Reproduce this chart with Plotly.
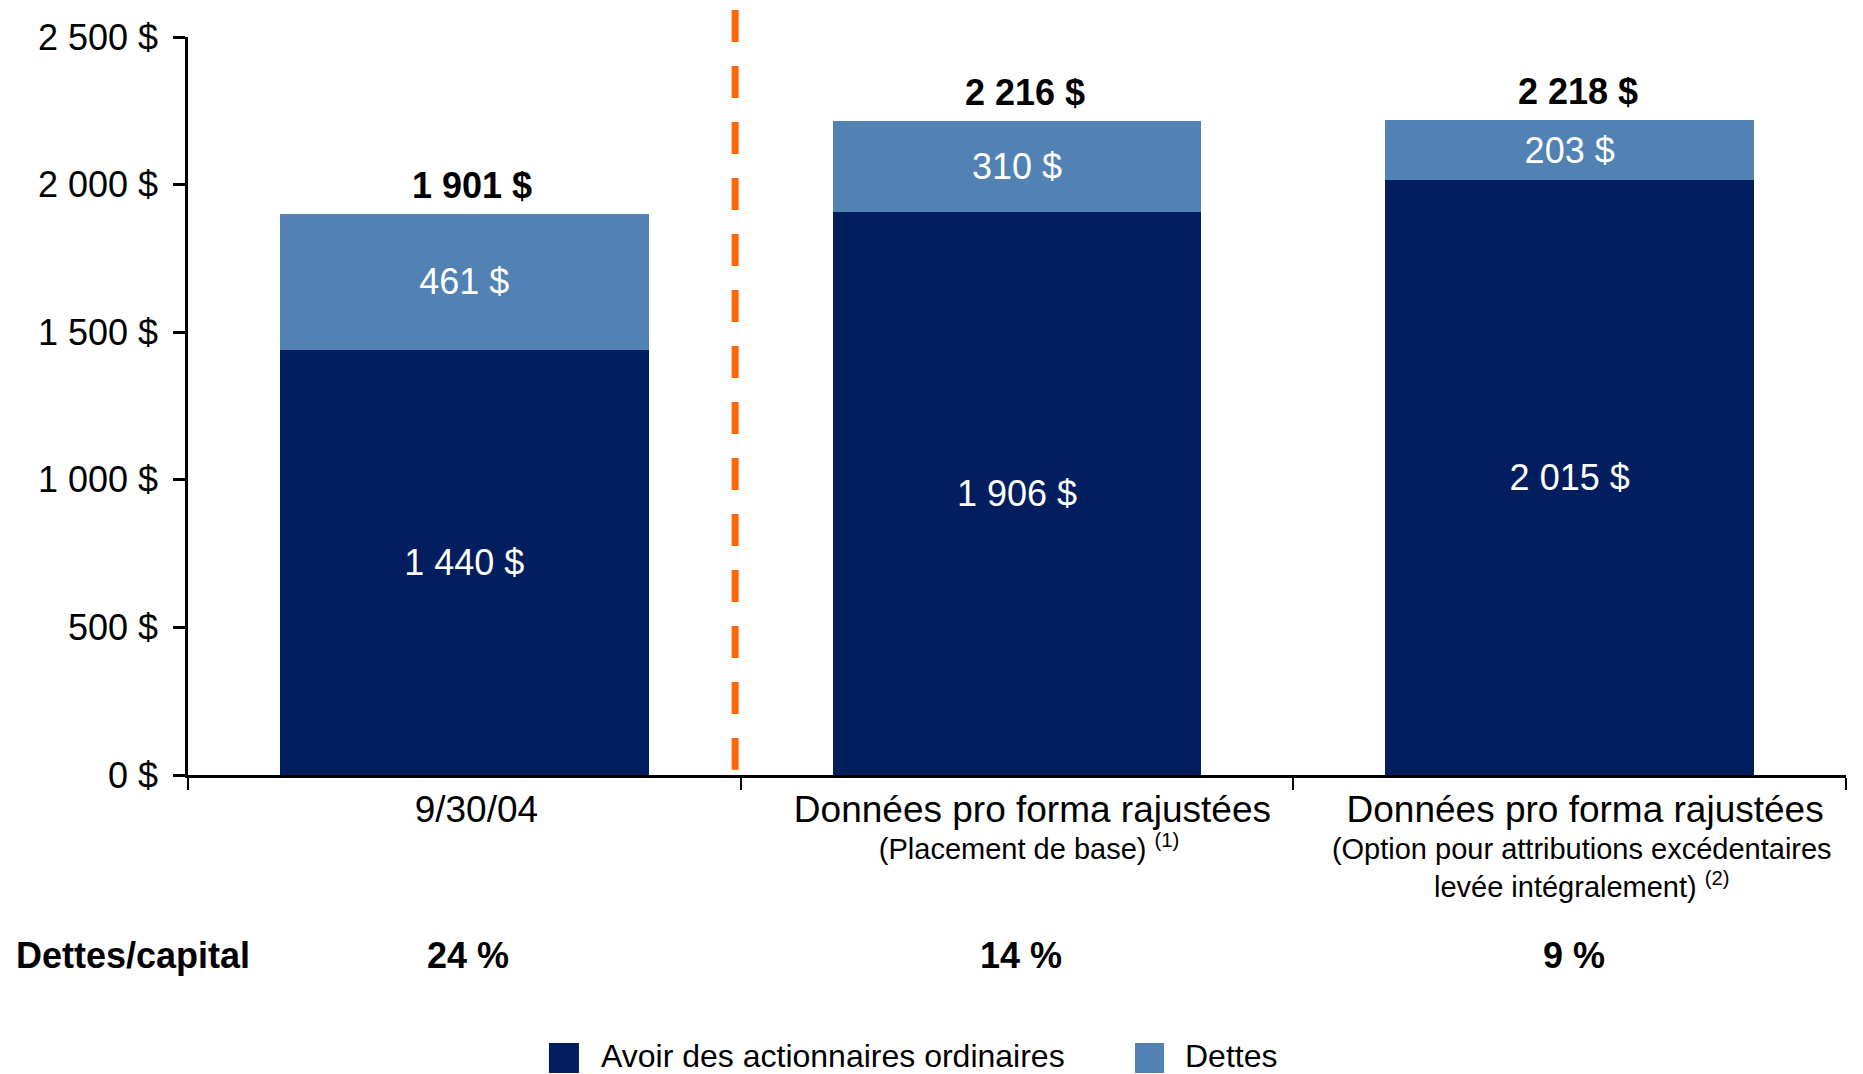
import plotly.graph_objects as go

# data
pad = "&nbsp;&nbsp;&nbsp;"
categories = [
    pad + "<span style='font-size:37px'>9/30/04</span>",
    "<span style='font-size:37px'>" + pad + "Données pro forma rajustées</span><br>" + pad + "(Placement de base) <sup style='font-size:19px'>(1)</sup>",
    "<span style='font-size:37px'>" + pad + "Données pro forma rajustées</span><br>" + pad + "(Option pour attributions excédentaires<br>" + pad + "levée intégralement) <sup style='font-size:19px'>(2)</sup>",
]
avoir = [1440, 1906, 2015]
dettes = [461, 310, 203]
totals = [1901, 2216, 2218]
ratio_labels = ["24 %", "14 %", "9 %"]
series_names = ["Avoir des actionnaires ordinaires", "Dettes"]
row_title = "Dettes/capital"

dark = "#021E5E"
light = "#5182B3"
font = "Liberation Sans, Arial, sans-serif"

fig = go.Figure()
fig.add_trace(go.Bar(x=categories, y=avoir, name=series_names[0], marker_color=dark,
                     marker_line_width=0,
                     texttemplate="%{y:,d} $", textposition="inside", insidetextanchor="middle",
                     textfont=dict(color="white", size=36, family=font), showlegend=False))
fig.add_trace(go.Bar(x=categories, y=dettes, name=series_names[1], marker_color=light,
                     marker_line_width=0,
                     texttemplate="%{y:,d} $", textposition="inside", insidetextanchor="middle",
                     textfont=dict(color="white", size=36, family=font), showlegend=False))

# totals above the bars
for c, t in zip(categories, totals):
    fig.add_annotation(x=c, y=t, xref="x", yref="y", text="<b>" + f"{t:,}".replace(",", " ") + " $</b>",
                       showarrow=False, yanchor="bottom", yshift=6, xshift=8,
                       font=dict(size=36, color="black", family=font))

# debt / capital row
fig.add_annotation(x=-0.105, y=-0.244, xref="paper", yref="paper", text="<b>" + row_title + "</b>",
                   showarrow=False, xanchor="left", yanchor="middle",
                   font=dict(size=36, color="black", family=font))
for c, r in zip(categories, ratio_labels):
    fig.add_annotation(x=c, y=-0.244, xref="x", yref="paper", text="<b>" + r + "</b>",
                       showarrow=False, yanchor="middle", xshift=4,
                       font=dict(size=36, color="black", family=font))

# dashed separator
fig.add_shape(type="line", xref="x", yref="paper", x0=0.49, x1=0.49, y0=1.0366, y1=0.007,
              line=dict(color="#FF6600", width=7, dash="32px,24px"))

# legend drawn by hand (bigger squares than plotly's)
leg = [(0.2177, 0.2358, 0.2485, dark), (0.5712, 0.5887, 0.6007, light)]
for (x0, x1, xt, col), nm in zip(leg, series_names):
    fig.add_shape(type="rect", xref="paper", yref="paper", x0=x0, x1=x1, y0=-0.4038, y1=-0.3631,
                  fillcolor=col, line=dict(width=0))
    fig.add_annotation(x=xt, y=-0.381, xref="paper", yref="paper", text=nm, showarrow=False,
                       xanchor="left", yanchor="middle", borderpad=0,
                       font=dict(size=32, color="black", family=font))

fig.update_layout(
    barmode="stack",
    bargap=0.333,
    width=1863, height=1074,
    margin=dict(l=188, r=17, t=37, b=299),
    plot_bgcolor="white", paper_bgcolor="white",
    separators=". ",
    font=dict(family=font, size=36, color="black"),
    showlegend=False,
)
fig.update_yaxes(range=[0, 2500], dtick=500, tickformat=",d", ticksuffix=" $",
                 showgrid=False, zeroline=False, showline=True, linecolor="black", linewidth=2.5,
                 ticks="outside", ticklen=12, tickwidth=2.5, tickcolor="black",
                 ticklabelstandoff=8, tickfont=dict(size=36, family=font))
fig.update_xaxes(showgrid=False, showline=True, linecolor="black", linewidth=2.5,
                 ticks="outside", tickson="boundaries", ticklen=12, tickwidth=2, tickcolor="black",
                 ticklabelstandoff=9, tickfont=dict(size=29, family=font))

fig.write_html("out.html", config={"displayModeBar": False},
               post_script="document.body.style.margin='0';document.body.style.overflow='hidden';")
